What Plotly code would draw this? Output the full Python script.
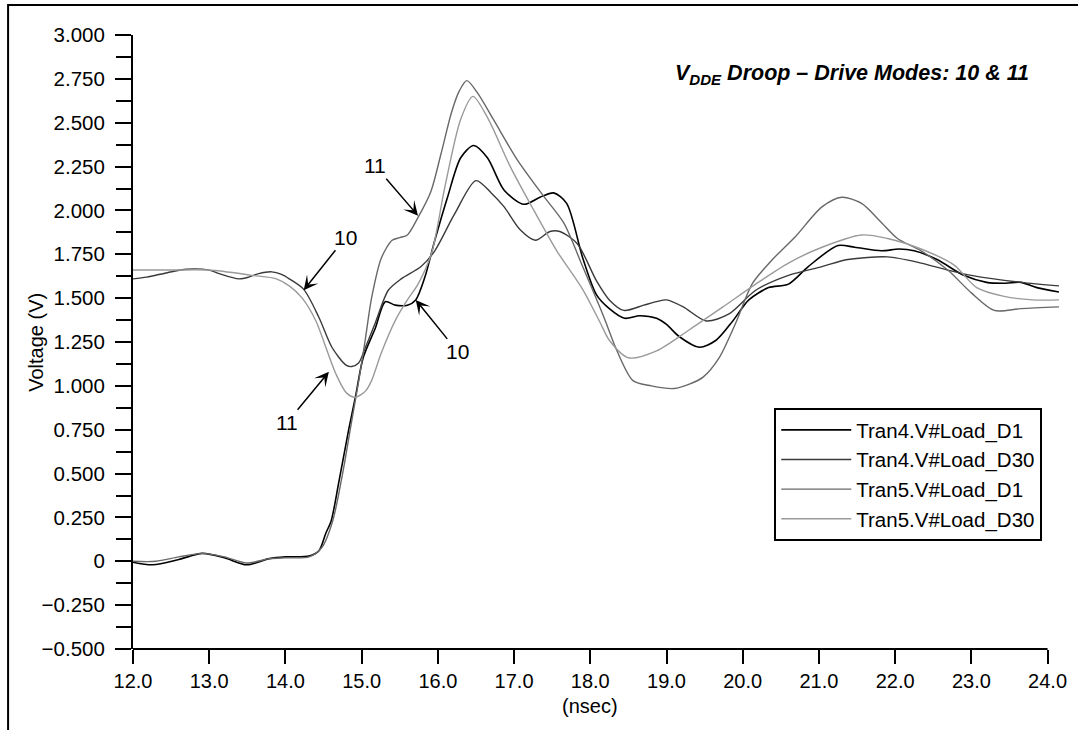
import plotly.graph_objects as go

# ---- data (time in ns, voltage in V) ----
t4_d1 = [12.0, 12.26, 12.6, 12.91, 13.2, 13.49, 13.79, 14.0, 14.31, 14.44, 14.53, 14.6, 14.7,
         14.83, 14.92, 15.02, 15.18, 15.31, 15.44, 15.6, 15.71, 15.83, 15.96, 16.13, 16.3, 16.47,
         16.65, 16.87, 17.13, 17.34, 17.52, 17.69, 17.9, 18.08, 18.25, 18.45, 18.65, 18.87, 19.0,
         19.17, 19.43, 19.65, 19.87, 20.08, 20.34, 20.6, 20.86, 21.25, 21.47, 21.82, 22.05, 22.25,
         22.55, 22.9, 23.2, 23.45, 23.65, 23.86, 24.15]
v4_d1 = [-0.005, -0.02, 0.01, 0.045, 0.02, -0.02, 0.015, 0.025, 0.03, 0.06, 0.16, 0.23, 0.45,
         0.75, 0.94, 1.16, 1.33, 1.48, 1.46, 1.46, 1.49, 1.62, 1.83, 2.08, 2.30, 2.37,
         2.30, 2.115, 2.035, 2.075, 2.10, 2.04, 1.73, 1.52, 1.44, 1.385, 1.40, 1.385, 1.35,
         1.28, 1.22, 1.26, 1.37, 1.49, 1.56, 1.58, 1.68, 1.80, 1.79, 1.77, 1.78, 1.77,
         1.72, 1.63, 1.59, 1.585, 1.59, 1.56, 1.535]

t4_d30 = [12.0, 12.18, 12.45, 12.7, 13.0, 13.13, 13.39, 13.52, 13.65, 13.82, 13.95, 14.05, 14.24,
          14.44, 14.61, 14.79, 14.87, 14.96, 15.05, 15.18, 15.35, 15.52, 15.78, 15.96, 16.22, 16.5,
          16.7, 16.87, 17.08, 17.28, 17.47, 17.6, 17.83, 18.08, 18.25, 18.44, 18.7, 18.87, 19.0,
          19.22, 19.52, 19.82, 20.17, 20.6, 21.04, 21.38, 21.9, 22.34, 22.69, 23.0, 23.65, 24.15]
v4_d30 = [1.61, 1.62, 1.645, 1.665, 1.66, 1.64, 1.61, 1.62, 1.64, 1.65, 1.635, 1.61, 1.55,
          1.39, 1.22, 1.12, 1.11, 1.13, 1.22, 1.36, 1.545, 1.61, 1.68, 1.77, 1.98, 2.17,
          2.10, 2.02, 1.89, 1.83, 1.88, 1.88, 1.81, 1.60, 1.49, 1.43, 1.46, 1.48, 1.49,
          1.45, 1.37, 1.41, 1.545, 1.63, 1.68, 1.72, 1.735, 1.70, 1.66, 1.63, 1.59, 1.57]

t5_d1 = [12.0, 12.3, 12.6, 12.91, 13.2, 13.49, 13.79, 14.0, 14.31, 14.48, 14.62, 14.75, 14.87,
         14.97, 15.05, 15.13, 15.26, 15.4, 15.5, 15.6, 15.74, 15.91, 16.04, 16.18, 16.28, 16.38,
         16.52, 16.74, 17.04, 17.39, 17.65, 17.9, 18.18, 18.35, 18.56, 18.8, 19.1, 19.3, 19.48,
         19.69, 19.91, 20.13, 20.39, 20.69, 21.04, 21.3, 21.56, 21.8, 22.03, 22.34, 22.69, 23.0,
         23.3, 23.65, 24.15]
v5_d1 = [0.0, 0.0, 0.025, 0.045, 0.025, -0.01, 0.015, 0.02, 0.025, 0.08, 0.23, 0.50, 0.80,
         1.05, 1.27, 1.50, 1.73, 1.83, 1.845, 1.86, 1.96, 2.11, 2.32, 2.56, 2.68, 2.74,
         2.67, 2.51, 2.29, 2.08, 1.93, 1.68, 1.39, 1.20, 1.03, 1.00, 0.985, 1.01, 1.05,
         1.16, 1.36, 1.585, 1.72, 1.85, 2.02, 2.075, 2.04, 1.94, 1.84, 1.77, 1.66, 1.53,
         1.43, 1.44, 1.45]

t5_d30 = [12.0, 12.5, 13.0, 13.56, 13.88, 14.05, 14.22, 14.4, 14.53, 14.66, 14.8, 14.92, 15.05,
          15.13, 15.26, 15.45, 15.6, 15.74, 15.92, 16.09, 16.3, 16.46, 16.65, 16.95, 17.26, 17.56,
          17.9, 18.13, 18.25, 18.5, 18.87, 19.3, 19.74, 20.17, 20.6, 21.04, 21.56, 21.9, 22.34,
          22.77, 23.07, 23.43, 23.8, 24.15]
v5_d30 = [1.66, 1.66, 1.66, 1.63, 1.61, 1.57, 1.50, 1.37, 1.22, 1.07, 0.96, 0.935, 0.97,
          1.03, 1.19, 1.38, 1.49, 1.58, 1.76, 2.13, 2.52, 2.65, 2.53, 2.25, 2.0, 1.77,
          1.55, 1.36, 1.26, 1.16, 1.20, 1.32, 1.45, 1.58, 1.70, 1.79, 1.86, 1.84, 1.78,
          1.69, 1.56, 1.51, 1.49, 1.49]

series_names = ["Tran4.V#Load_D1", "Tran4.V#Load_D30", "Tran5.V#Load_D1", "Tran5.V#Load_D30"]
series_colors = ["#000000", "#3a3a3a", "#686868", "#9a9a9a"]

x_ticks = [12, 13, 14, 15, 16, 17, 18, 19, 20, 21, 22, 23, 24]
x_ticktext = ["%.1f" % v for v in x_ticks]
y_ticks = [3.0, 2.75, 2.5, 2.25, 2.0, 1.75, 1.5, 1.25, 1.0, 0.75, 0.5, 0.25, 0, -0.25, -0.5]
y_ticktext = ["3.000", "2.750", "2.500", "2.250", "2.000", "1.750", "1.500", "1.250", "1.000",
              "0.750", "0.500", "0.250", "0", "\u22120.250", "\u22120.500"]

# callouts: (text, x, y, ax, ay)
callouts = [("11", 15.74, 1.97, -43, -50),
            ("10", 14.24, 1.545, 42, -53),
            ("10", 15.71, 1.49, 42, 52),
            ("11", 14.57, 1.08, -42, 51)]

FONT = "Liberation Sans, Arial, sans-serif"

fig = go.Figure()
xs = [t4_d1, t4_d30, t5_d1, t5_d30]
ys = [v4_d1, v4_d30, v5_d1, v5_d30]
widths = [1.6, 1.4, 1.4, 1.4]
for i in range(4):
    fig.add_trace(go.Scatter(
        x=xs[i], y=ys[i], name=series_names[i], mode="lines",
        line=dict(color=series_colors[i], width=widths[i], shape="spline", smoothing=0.8)
    ))

fig.update_layout(
    width=1078, height=730,
    margin=dict(l=133, r=11, t=35, b=81),
    paper_bgcolor="white", plot_bgcolor="white",
    font=dict(family=FONT, size=20, color="black"),
    showlegend=True,
    legend=dict(x=0.6925, y=0.3925, xanchor="left", yanchor="top",
                bordercolor="black", borderwidth=2, bgcolor="white",
                font=dict(size=20.5), itemwidth=70, tracegroupgap=0),
)

fig.update_xaxes(
    range=[12, 24.15], tickvals=x_ticks, ticktext=x_ticktext,
    showline=False, showgrid=False, zeroline=False,
    ticks="outside", ticklen=14, tickwidth=2, tickcolor="black",
    tickfont=dict(size=20),
)
fig.update_yaxes(
    range=[-0.5, 3.0], tickvals=y_ticks, ticktext=y_ticktext,
    showline=True, linewidth=2, linecolor="black", mirror=False,
    showgrid=False, zeroline=False,
    ticks="outside", ticklen=16, tickwidth=2, tickcolor="black",
    ticklabelstandoff=6, tickfont=dict(size=20.5),
    minor=dict(dtick=0.125, tick0=-0.5, ticks="outside", ticklen=15, tickwidth=2, tickcolor="black"),
)

# x axis line stops at 24.0 while the traces run a bit further
fig.add_shape(type="line", xref="x", yref="paper", x0=12, x1=24, y0=0, y1=0,
              line=dict(color="black", width=2))
# outer frame of the figure
fig.add_shape(type="rect", xref="paper", yref="paper", x0=-0.1349, x1=1.03, y0=-0.16, y1=1.0489,
              line=dict(color="black", width=2))

fig.add_annotation(text="<b><i>V<sub>DDE</sub> Droop \u2013 Drive Modes: 10 &amp; 11</i></b>",
                   xref="paper", yref="paper", x=0.5835, y=0.935, xanchor="left", yanchor="middle",
                   showarrow=False, font=dict(size=21.5))
fig.add_annotation(text="Voltage (V)", xref="paper", yref="paper", x=-0.105, y=0.5,
                   xanchor="center", yanchor="middle",
                   textangle=-90, showarrow=False, font=dict(size=20))
fig.add_annotation(text="(nsec)", xref="x", yref="paper", x=18, y=-0.093,
                   xanchor="center", yanchor="middle",
                   showarrow=False, font=dict(size=20))

for txt, x, y, ax, ay in callouts:
    fig.add_annotation(text=txt, x=x, y=y, ax=ax, ay=ay, xref="x", yref="y",
                       showarrow=True, arrowhead=3, arrowsize=1.6, arrowwidth=1.5,
                       arrowcolor="black", font=dict(size=21))

fig.write_html("out.html", config={"displayModeBar": False},
               post_script="document.body.style.margin='0';")
